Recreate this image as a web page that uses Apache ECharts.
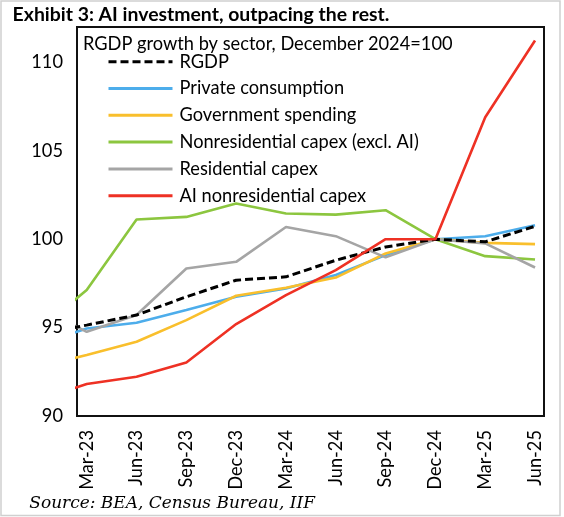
<!DOCTYPE html>
<html><head><meta charset="utf-8">
<script src="https://cdn.jsdelivr.net/npm/echarts@6/dist/echarts.min.js"></script>
<style>html,body{margin:0;padding:0;background:#fff}#c{width:564px;height:517px}</style>
</head><body><div id="c"></div>
<script>
// First category (Dec-22) sits just left of the visible axis, as in the source chart
const categories = ['Dec-22','Mar-23','Jun-23','Sep-23','Dec-23','Mar-24','Jun-24','Sep-24','Dec-24','Mar-25','Jun-25'];
const rgdp        = [94.6, 95.14, 95.71, 96.74, 97.68, 97.87, 98.81, 99.56, 100, 99.85, 100.73];
const privateCons = [94.0, 94.95, 95.27, 95.99, 96.75, 97.21, 97.97, 99.10, 100, 100.17, 100.79];
const govSpending = [92.75, 93.45, 94.20, 95.42, 96.80, 97.25, 97.83, 99.19, 100, 99.79, 99.72];
const nonresCapex = [94.8, 97.12, 101.11, 101.26, 102.02, 101.45, 101.39, 101.64, 100, 99.04, 98.85];
const residCapex  = [96.2, 94.76, 95.71, 98.34, 98.72, 100.69, 100.17, 98.97, 100, 99.76, 98.40];
const aiCapex     = [90.88, 91.81, 92.22, 93.03, 95.20, 96.84, 98.25, 100.0, 100, 106.9, 111.24];
const yTicks = [90, 95, 100, 105, 110];
const names = ['RGDP','Private consumption','Government spending','Nonresidential capex (excl. AI)','Residential capex','AI nonresidential capex'];

function fitSize(text, font, target) {
  const ctx = document.createElement('canvas').getContext('2d');
  ctx.font = font.replace('{s}', '100px');
  return 100 * target / ctx.measureText(text).width;
}
const FONT = 'Lato';
const fs = fitSize('Nonresidential capex (excl. AI)', '{s} Lato', 239.5);
const fsTitle = fitSize('Exhibit 3: AI investment, outpacing the rest.', 'bold {s} Lato', 377);
const fsSrc = fitSize('Source: BEA, Census Bureau, IIF', 'italic {s} "DejaVu Serif"', 286);

const pts = arr => arr.map((v, i) => [i - 1, v]);
const mk = (name, data, color, z, extra) => Object.assign({
  name, type: 'line', data: pts(data), symbol: 'none', clip: true, z,
  lineStyle: { color, width: 2.6 }, itemStyle: { color }, emphasis: { disabled: true }
}, extra || {});

const chart = echarts.init(document.getElementById('c'));
chart.setOption({
  animation: false,
  backgroundColor: '#fff',
  grid: { left: 77, top: 27, right: 20, bottom: 101, show: true, borderColor: '#111', borderWidth: 2, backgroundColor: 'transparent' },
  xAxis: {
    type: 'value', min: -0.195, max: 9.18,
    axisLine: { show: false }, axisTick: { show: false }, splitLine: { show: false },
    axisLabel: {
      customValues: [0,1,2,3,4,5,6,7,8,9],
      formatter: v => categories[Math.round(v) + 1],
      rotate: 90, margin: 14, color: '#000', fontFamily: FONT, fontSize: fs
    }
  },
  yAxis: {
    type: 'value', min: 90, max: 112, interval: 5,
    axisLine: { show: false }, axisTick: { show: false }, splitLine: { show: false },
    axisLabel: {
      customValues: yTicks,
      margin: 14, color: '#000', fontFamily: FONT, fontSize: fs
    }
  },
  legend: {
    orient: 'vertical', left: 107, top: 52.7, padding: 0, itemWidth: 64, itemHeight: 14, itemGap: 8.8,
    data: names,
    itemStyle: { opacity: 0 },
    lineStyle: { width: 3 },
    textStyle: { fontFamily: FONT, fontSize: fs, color: '#000', padding: [0,0,0,2] },
    selectedMode: false
  },
  series: [
    mk(names[1], privateCons, '#4DADEB', 2),
    mk(names[2], govSpending, '#F9BF2C', 3),
    mk(names[3], nonresCapex, '#8CC63F', 4),
    mk(names[4], residCapex, '#A5A5A5', 5),
    mk(names[0], rgdp, '#000000', 6, { lineStyle: { color: '#000', width: 3, type: [8, 4] } }),
    mk(names[5], aiCapex, '#EE3124', 7)
  ],
  graphic: [
    { type: 'rect', shape: { x: 1, y: 1, width: 559, height: 514.5 }, style: { fill: 'none', stroke: '#d0d0d0', lineWidth: 1.5 }, silent: true },
    { type: 'text', x: 12.6, y: 14.5, style: { text: 'Exhibit 3: AI investment, outpacing the rest.', font: 'bold ' + fsTitle + 'px Lato', fill: '#000', verticalAlign: 'middle' } },
    { type: 'text', x: 83, y: 44, style: { text: 'RGDP growth by sector, December 2024=100', font: fs + 'px Lato', fill: '#000', verticalAlign: 'middle' } },
    { type: 'text', x: 29.3, y: 504, style: { text: 'Source: BEA, Census Bureau, IIF', font: 'italic ' + fsSrc + 'px "DejaVu Serif"', fill: '#000', verticalAlign: 'middle' } }
  ]
});
</script></body></html>
